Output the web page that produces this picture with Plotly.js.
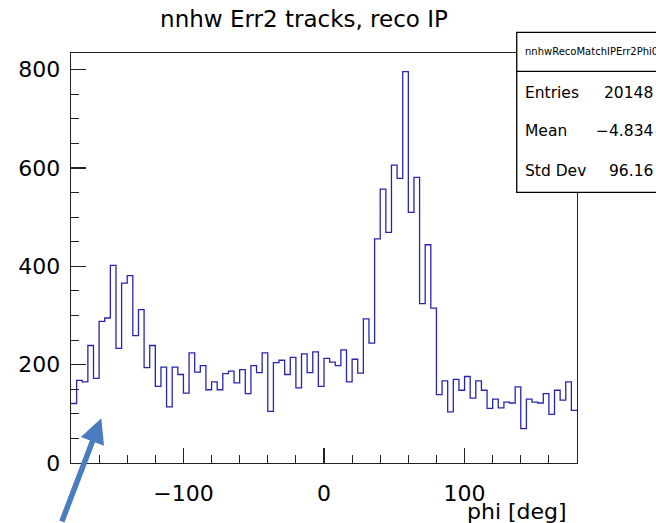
<!DOCTYPE html>
<html>
<head>
<meta charset="utf-8">
<script src="https://cdn.plot.ly/plotly-3.0.1.min.js"></script>
<style>html,body{margin:0;padding:0;background:#fff;}#plot{width:656px;height:523px;}</style>
</head>
<body>
<div id="plot"></div>
<script>
// Histogram definition: 90 bins from -180 to 180 deg
const phiMin = -180;
const phiMax = 180;
const nBins = 90;
// Bin contents
const counts = [
  121, 168, 165, 239, 172, 288, 295, 402, 233, 366,
  381, 259, 312, 194, 239, 156, 195, 114, 195, 180,
  142, 224, 185, 198, 149, 165, 149, 182, 187, 163,
  190, 141, 198, 184, 224, 105, 204, 209, 180, 215,
  153, 222, 184, 226, 156, 213, 205, 198, 230, 165,
  211, 183, 293, 244, 456, 557, 469, 606, 579, 796,
  510, 581, 324, 444, 315, 139, 167, 104, 170, 148,
  176, 132, 167, 148, 111, 130, 112, 124, 122, 155,
  70, 130, 124, 122, 141, 99, 148, 128, 165, 107
];
const xTickVals = [-100, 0, 100];
const xTickText = ["\u2212100", "0", "100"];
const yTickVals = [0, 200, 400, 600, 800];
const yTickText = ["0", "200", "400", "600", "800"];
const titleText = "nnhw Err2 tracks, reco IP";
const xTitleText = "phi [deg]";
const statsName = "nnhwRecoMatchIPErr2Phi0";
const statLabels = ["Entries", "Mean", "Std Dev"];
const statValues = ["20148", "\u22124.834", "96.16"];

// Build step outline from bin edges
const binW = (phiMax - phiMin) / nBins;
const edges = [];
for (let i = 0; i <= nBins; i++) edges.push(phiMin + i * binW);
const stepY = counts.concat([counts[counts.length - 1]]);

const FONT = "DejaVu Sans, Arial, sans-serif";
const W = 656, H = 523;
const mL = 70.7, mR = 79, mT = 52.7, mB = 60.3;
const pw = W - mL - mR, ph = H - mT - mB;
const px = (x) => (x - mL) / pw;       // pixel x -> paper
const py = (y) => (H - mB - y) / ph;   // pixel y -> paper

const trace = {
  type: "scatter",
  mode: "lines",
  x: edges,
  y: stepY,
  line: {shape: "hv", color: "#2626ad", width: 1.3},
  hoverinfo: "skip",
  showlegend: false
};

const statAnn = [];
const rowY = [93, 131, 171];
statLabels.forEach((lab, i) => {
  statAnn.push({xref: "paper", yref: "paper", x: px(523), y: py(rowY[i]), xanchor: "left", yanchor: "middle",
    text: lab, showarrow: false, font: {family: FONT, size: 15.5, color: "#000"}});
  statAnn.push({xref: "paper", yref: "paper", x: px(655), y: py(rowY[i]), xanchor: "right", yanchor: "middle",
    text: statValues[i], showarrow: false, font: {family: FONT, size: 15.5, color: "#000"}});
});

const layout = {
  width: W, height: H,
  margin: {l: mL, r: mR, t: mT, b: mB, pad: 0},
  paper_bgcolor: "#fff",
  plot_bgcolor: "#fff",
  showlegend: false,
  title: {text: titleText, font: {family: FONT, size: 23, color: "#000"},
    xref: "container", yref: "container", x: 304 / W, y: 1 - 19 / H, xanchor: "center", yanchor: "middle"},
  xaxis: {
    range: [phiMin, phiMax], showgrid: false, zeroline: false,
    showline: true, mirror: true, linecolor: "#222", linewidth: 1.3,
    ticks: "inside", ticklen: 15, tickwidth: 1.2, tickcolor: "#222",
    tickvals: xTickVals, ticktext: xTickText,
    tickfont: {family: FONT, size: 22, color: "#000"},
    ticklabelstandoff: 10,
    minor: {ticks: "inside", ticklen: 8, dtick: 20, tick0: 0, tickwidth: 1.1, tickcolor: "#222", showgrid: false}
  },
  yaxis: {
    range: [0, 834], showgrid: false, zeroline: false,
    showline: true, mirror: true, linecolor: "#222", linewidth: 1.3,
    ticks: "inside", ticklen: 15, tickwidth: 1.2, tickcolor: "#222",
    tickvals: yTickVals, ticktext: yTickText,
    tickfont: {family: FONT, size: 22, color: "#000"},
    ticklabelstandoff: 5,
    minor: {ticks: "inside", ticklen: 8, dtick: 50, tick0: 0, tickwidth: 1.1, tickcolor: "#222", showgrid: false}
  },
  shapes: [
    {type: "rect", xref: "paper", yref: "paper", x0: px(516.7), x1: px(700), y0: py(192), y1: py(32),
      line: {color: "#000", width: 1.3}, fillcolor: "#fff", layer: "above"},
    {type: "line", xref: "paper", yref: "paper", x0: px(516.7), x1: px(700), y0: py(71), y1: py(71),
      line: {color: "#000", width: 1.3}, layer: "above"}
  ],
  annotations: [
    {xref: "paper", yref: "paper", x: px(569), y: py(511), xanchor: "right", yanchor: "middle",
      text: xTitleText, showarrow: false, font: {family: FONT, size: 22, color: "#000"}},
    {xref: "paper", yref: "paper", x: px(523), y: py(51), xanchor: "left", yanchor: "middle",
      text: statsName, showarrow: false, font: {family: FONT, size: 10, color: "#000"}},
    ...statAnn,
    {xref: "paper", yref: "paper", x: px(101), y: py(418), text: "", showarrow: true,
      ax: -40, ay: 124, arrowcolor: "#4a7cbf", arrowwidth: 5.5, arrowhead: 2, arrowsize: 0.9, standoff: 0}
  ]
};

Plotly.newPlot("plot", [trace], layout, {staticPlot: true, displayModeBar: false});
</script>
</body>
</html>
